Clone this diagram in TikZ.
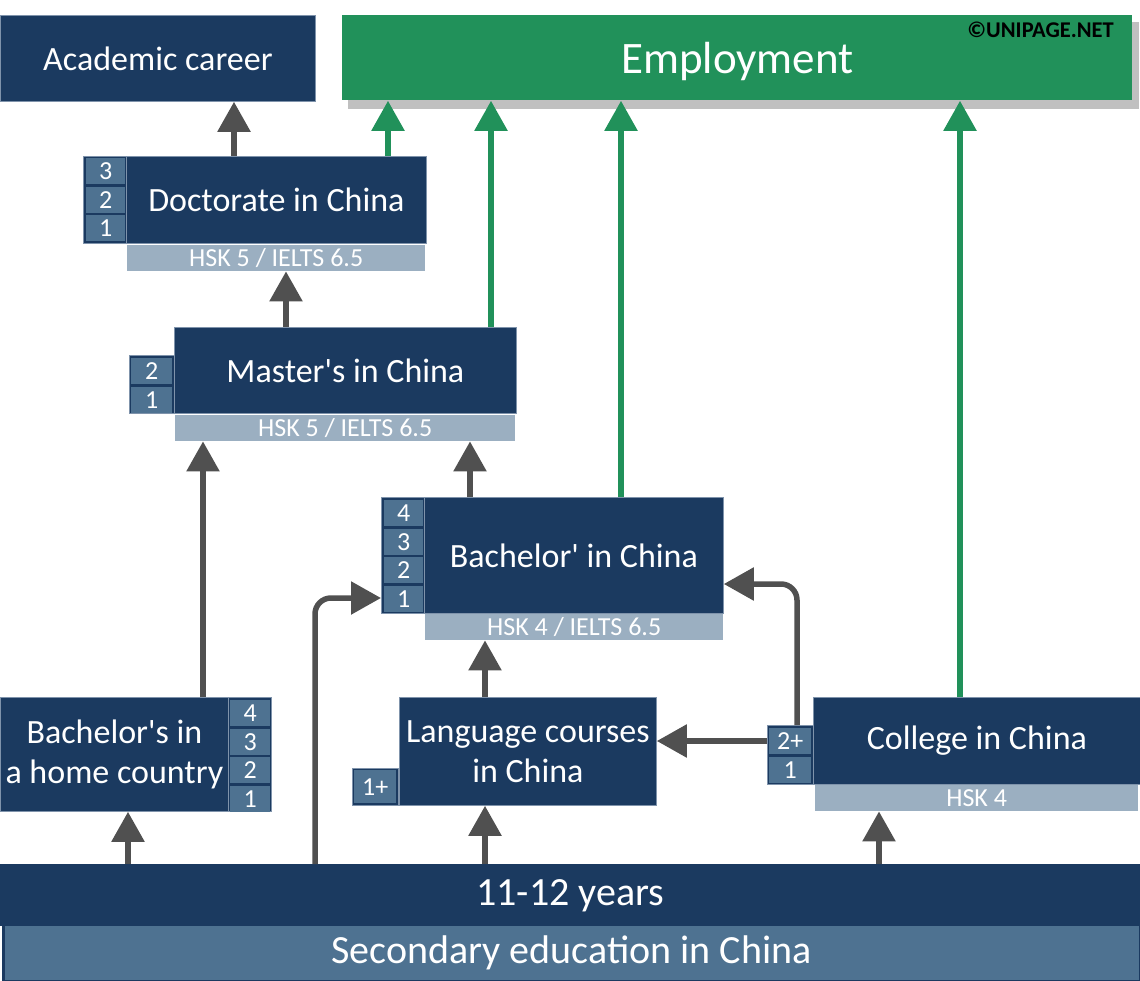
\documentclass[tikz,border=0pt]{standalone}
\usepackage{fontspec}
\setmainfont{Carlito}
\usetikzlibrary{arrows.meta}
\definecolor{navy}{HTML}{1B3A60}
\definecolor{cellblue}{HTML}{4E7291}
\definecolor{hskgrey}{HTML}{9BAFC1}
\definecolor{empgreen}{HTML}{21915A}
\definecolor{arrowgrey}{HTML}{505050}
\definecolor{shadowgrey}{HTML}{C0C0C0}
\definecolor{edgeblue}{HTML}{7F93AB}
\newcommand{\apos}{\textquotesingle}
\tikzset{
  box/.style={anchor=north west, inner sep=0pt, fill=navy, draw=edgeblue, line width=0.8pt,
    text=white, align=center, font=\fontsize{34}{40}\selectfont},
  panel/.style={anchor=north west, inner sep=0pt, fill=navy, draw=edgeblue, line width=0.8pt},
  cell/.style={anchor=north west, inner sep=0pt, fill=cellblue, text=white,
    minimum width=39pt, minimum height=26pt, font=\fontsize{26}{26}\selectfont},
  hsk/.style={anchor=north west, inner sep=0pt, fill=hskgrey, text=white,
    minimum height=26pt, font=\fontsize{26}{26}\selectfont},
  arr/.style={draw=arrowgrey, line width=5.5pt, -{Triangle[length=30pt,width=32pt]}},
  garr/.style={arr, draw=empgreen},
}
\begin{document}
\begin{tikzpicture}[x=1pt, y=-1pt]
	\useasboundingbox (0,0) rectangle (1140,981);
	% Top row
	\node[box, minimum width=315pt, minimum height=86pt] (acad) at (0,15) {Academic career};
	\fill[shadowgrey] (348,22) rectangle (1139,109);
	\node[box, fill=empgreen, draw=none, minimum width=790pt, minimum height=85pt, text depth=0pt,
		font=\fontsize{45}{50}\selectfont] (emp) at (342,15) {Employment};
	\node[anchor=east, inner sep=0pt, font=\bfseries\fontsize{22.5}{25}\selectfont] (copy) at (1114,30) {©UNIPAGE.NET};
	% Doctorate
	\node[panel, minimum width=43pt, minimum height=87pt] (docpan) at (83,156) {};
	\node[box, minimum width=300pt, minimum height=87pt] (docmain) at (126,156) {Doctorate in China};
	\foreach \n [count=\i] in {3,2,1}{
		\node[cell] (doc\n) at (86,{158+(\i-1)*28.5}) {\n};
	}
	\node[hsk, minimum width=298pt] (dochsk) at (127,245) {HSK 5 / IELTS 6.5};
	% Master's
	\node[panel, minimum width=45pt, minimum height=58pt] (maspan) at (129,355) {};
	\node[box, minimum width=342pt, minimum height=86pt] (masmain) at (174,327) {Master\apos s in China};
	\foreach \n [count=\i] in {2,1}{
		\node[cell, minimum width=41pt] (mas\n) at (131,{358+(\i-1)*28.5}) {\n};
	}
	\node[hsk, minimum width=340pt] (mashsk) at (175,415) {HSK 5 / IELTS 6.5};
	% Bachelor in China
	\node[panel, minimum width=43pt, minimum height=116pt] (bchpan) at (381,497) {};
	\node[box, minimum width=299pt, minimum height=116pt] (bchmain) at (424,497) {Bachelor\apos{} in China};
	\foreach \n [count=\i] in {4,3,2,1}{
		\node[cell] (bch\n) at (384,{500+(\i-1)*28.5}) {\n};
	}
	\node[hsk, minimum width=298pt] (bchhsk) at (425,614) {HSK 4 / IELTS 6.5};
	% Bachelor at home
	\node[box, minimum width=228pt, minimum height=114pt] (homemain) at (0,697) {Bachelor\apos s in\\a home country};
	\node[panel, minimum width=43pt, minimum height=114pt] (homepan) at (228,697) {};
	\foreach \n [count=\i] in {4,3,2,1}{
		\node[cell, minimum width=40pt] (home\n) at (230,{700+(\i-1)*28.5}) {\n};
	}
	% Language courses
	\node[box, minimum width=257pt, minimum height=108pt] (langmain) at (399,697) {Language courses\\in China};
	\node[panel, minimum width=46pt, minimum height=37pt] (langpan) at (352,768) {};
	\node[cell, minimum width=42pt, minimum height=33pt] (lang1) at (354,770) {1+};
	% College
	\node[panel, minimum width=46pt, minimum height=59pt] (colpan) at (767,725) {};
	\node[box, minimum width=327pt, minimum height=87pt] (colmain) at (813,697) {College in China};
	\foreach \n [count=\i] in {2+,1}{
		\node[cell, minimum width=42pt] (col\i) at (769,{728+(\i-1)*28.5}) {\n};
	}
	\node[hsk, minimum width=323pt] (colhsk) at (815,785) {HSK 4};
	% Secondary education
	\node[box, draw=none, minimum width=1140pt, minimum height=62pt, font=\fontsize{40}{44}\selectfont] (yrs) at (0,864) {11-12 years};
	\node[box, fill=cellblue, draw=navy, line width=3pt, minimum width=1137pt, minimum height=57pt,
		font=\fontsize{40}{44}\selectfont] (sec) at (1.5,922.5) {Secondary education in China};
	% Arrows
	\draw[arr] (234,0 |- docmain.north) -- (234,0 |- acad.south);
	\draw[arr] (286,0 |- masmain.north) -- (286,0 |- dochsk.south);
	\draw[arr] (470,0 |- bchmain.north) -- (470,0 |- mashsk.south);
	\draw[arr] (203,0 |- homemain.north) -- (203,0 |- mashsk.south);
	\draw[arr] (485,0 |- langmain.north) -- (485,0 |- bchhsk.south);
	\draw[arr] (colpan.west |- 0,741) -- (langmain.east |- 0,741);
	\draw[arr, rounded corners=16pt] (797,0 |- colpan.north) |- (bchmain.east |- 0,584);
	\draw[arr] (128,0 |- yrs.north) -- (128,0 |- homemain.south);
	\draw[arr, rounded corners=16pt] (315,0 |- yrs.north) |- (bchpan.west |- 0,598);
	\draw[arr] (485,0 |- yrs.north) -- (485,0 |- langmain.south);
	\draw[arr] (879,0 |- yrs.north) -- (879,0 |- colhsk.south);
	% Green arrows to employment
	\foreach \x/\src in {388/docmain, 491/masmain, 621/bchmain, 960/colmain}{
		\draw[garr] (\x,0 |- \src.north) -- (\x,0 |- emp.south);
	}
\end{tikzpicture}
\end{document}
